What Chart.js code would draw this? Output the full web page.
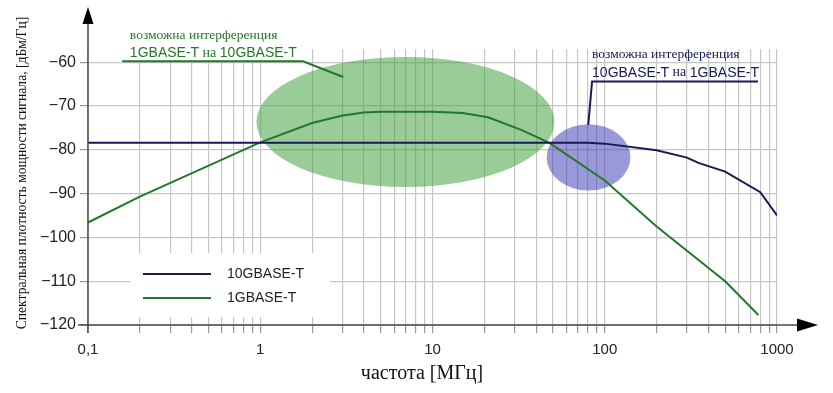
<!DOCTYPE html>
<html>
<head>
<meta charset="utf-8">
<script src="https://cdn.jsdelivr.net/npm/chart.js@4"></script>
<style>
  html, body { margin: 0; padding: 0; background: #fff; }
</style>
</head>
<body>
<canvas id="chart" width="833" height="393"></canvas>
<script>
// 10GBASE-T spectrum (MHz, dBm/Hz)
const freq10G = [0.1, 1, 10, 80, 100, 200, 300, 350, 500, 800, 1000];
const psd10G = [-78.4, -78.4, -78.4, -78.4, -78.6, -80.1, -81.8, -83.0, -85.0, -89.7, -95.0];

// 1GBASE-T spectrum
const freq1G = [0.1, 0.2, 1, 2, 3, 4, 5, 10, 15, 21, 33, 48, 100, 200, 500, 780];
const psd1G = [-96.6, -90.7, -78.3, -73.9, -72.2, -71.5, -71.3, -71.3, -71.6, -72.6, -75.5, -78.5, -87.0, -97.5, -110.0, -117.7];

const seriesNames = ['10GBASE-T', '1GBASE-T'];

// axis ticks
const xDecades = [0.1, 1, 10, 100];
const xSteps = [1, 2, 3, 4, 5, 6, 7, 8, 9];
const xLabelValues = [0.1, 1, 10, 100, 1000];
const xLabels = ['0,1', '1', '10', '100', '1000'];
const yTicks = [-120, -110, -100, -90, -80, -70, -60];

const navy = '#161a56';
const green = '#23782a';

let xGrid = [];
for (const d of xDecades) {
    for (const s of xSteps) {
        xGrid.push(+(d * s).toPrecision(3));
    }
}
xGrid.push(1000);

// highlighted zones and callouts, in data units
const zones = [
    { f1: 0.95, f2: 51, db1: -88.5, db2: -58.8, fill: 'rgba(62, 158, 58, 0.52)' },
    { f1: 46, f2: 141, db1: -89.3, db2: -74.2, fill: 'rgba(70, 70, 185, 0.55)' },
];

const callouts = [
    {
        color: green,
        path: [[0.158, -59.8], [1.77, -59.8], [3.03, -63.4]],
        line1: 'возможна интерференция',
        line2: ['1GBASE-T', ' на ', '10GBASE-T'],
        textAt: [0.175, -58.0],
        mask: true,
    },
    {
        color: navy,
        path: [[80.2, -74.3], [84.4, -64.4], [775, -64.4]],
        line1: 'возможна интерференция',
        line2: ['10GBASE-T', ' на ', '1GBASE-T'],
        textAt: [84.4, -62.4],
        mask: false,
    },
];

const sansFont = '"Liberation Sans", Arial, sans-serif';
const serifFont = '"Liberation Serif", "Times New Roman", serif';

const zonePlugin = {
    id: 'zones',
    beforeDatasetsDraw(chart) {
        const ctx = chart.ctx;
        const xs = chart.scales.x;
        const ys = chart.scales.y;
        const a = chart.chartArea;
        ctx.save();

        // white patch behind the green callout text
        for (const c of callouts) {
            if (!c.mask) continue;
            const x1 = xs.getPixelForValue(c.path[0][0]);
            const x2 = xs.getPixelForValue(c.path[1][0]);
            const y2 = ys.getPixelForValue(c.path[0][1]);
            ctx.fillStyle = '#fff';
            ctx.fillRect(x1, a.top - 1, x2 - x1 + 2, y2 - a.top);
        }

        for (const z of zones) {
            const x1 = xs.getPixelForValue(z.f1);
            const x2 = xs.getPixelForValue(z.f2);
            const y1 = ys.getPixelForValue(z.db1);
            const y2 = ys.getPixelForValue(z.db2);
            ctx.beginPath();
            ctx.ellipse((x1 + x2) / 2, (y1 + y2) / 2, Math.abs(x2 - x1) / 2, Math.abs(y2 - y1) / 2, 0, 0, Math.PI * 2);
            ctx.fillStyle = z.fill;
            ctx.fill();
        }

        // legend box sits on top of the grid
        const lx = a.left + 42;
        const ly = a.top + 204;
        ctx.fillStyle = '#fff';
        ctx.fillRect(lx, ly, 200, 64);
        const colors = [navy, green];
        ctx.font = '14px ' + sansFont;
        ctx.textBaseline = 'middle';
        for (let i = 0; i < seriesNames.length; i++) {
            const y = ly + 21 + i * 24;
            ctx.beginPath();
            ctx.moveTo(lx + 13, y);
            ctx.lineTo(lx + 81, y);
            ctx.strokeStyle = colors[i];
            ctx.lineWidth = 2;
            ctx.stroke();
            ctx.fillStyle = '#222';
            ctx.fillText(seriesNames[i], lx + 97, y);
        }
        ctx.restore();
    },
    afterDraw(chart) {
        const ctx = chart.ctx;
        const xs = chart.scales.x;
        const ys = chart.scales.y;
        const a = chart.chartArea;
        ctx.save();

        // callouts
        for (const c of callouts) {
            ctx.beginPath();
            c.path.forEach((p, i) => {
                const px = xs.getPixelForValue(p[0]);
                const py = ys.getPixelForValue(p[1]);
                if (i === 0) ctx.moveTo(px, py); else ctx.lineTo(px, py);
            });
            ctx.strokeStyle = c.color;
            ctx.lineWidth = 2;
            ctx.stroke();

            const tx = xs.getPixelForValue(c.textAt[0]);
            const ty = ys.getPixelForValue(c.textAt[1]);
            ctx.fillStyle = c.color;
            ctx.textBaseline = 'middle';
            ctx.textAlign = 'left';
            ctx.font = '13.5px ' + serifFont;
            ctx.fillText(c.line1, tx, ty - 18);
            let x = tx;
            c.line2.forEach((part, i) => {
                ctx.font = i === 1 ? '14px ' + serifFont : '14px ' + sansFont;
                ctx.fillText(part, x, ty);
                x += ctx.measureText(part).width;
            });
        }

        // axes with arrows
        ctx.strokeStyle = '#4a4a4a';
        ctx.fillStyle = '#000';
        ctx.lineWidth = 1.5;
        ctx.beginPath();
        ctx.moveTo(a.left, a.bottom + 8);
        ctx.lineTo(a.left, 20);
        ctx.moveTo(a.left - 10, a.bottom);
        ctx.lineTo(800, a.bottom);
        ctx.stroke();
        ctx.beginPath();
        ctx.moveTo(a.left, 7);
        ctx.lineTo(a.left - 5.5, 24);
        ctx.lineTo(a.left + 5.5, 24);
        ctx.closePath();
        ctx.fill();
        ctx.beginPath();
        ctx.moveTo(818, a.bottom);
        ctx.lineTo(797, a.bottom - 6.5);
        ctx.lineTo(797, a.bottom + 6.5);
        ctx.closePath();
        ctx.fill();

        // axis titles
        ctx.fillStyle = '#111';
        ctx.textAlign = 'center';
        ctx.textBaseline = 'middle';
        ctx.font = '20px ' + serifFont;
        ctx.fillText('частота [МГц]', 422, 374);
        ctx.translate(22, 173);
        ctx.rotate(-Math.PI / 2);
        ctx.font = '13.6px ' + serifFont;
        ctx.fillText('Спектральная плотность мощности сигнала, [дБм/Гц]', 0, 0);
        ctx.restore();
    },
};

const chart = new Chart(document.getElementById('chart'), {
    type: 'line',
    data: {
        datasets: [
            {
                label: seriesNames[0],
                data: freq10G.map((f, i) => ({ x: f, y: psd10G[i] })),
                borderColor: navy,
                borderWidth: 2,
                pointRadius: 0,
                tension: 0,
            },
            {
                label: seriesNames[1],
                data: freq1G.map((f, i) => ({ x: f, y: psd1G[i] })),
                borderColor: green,
                borderWidth: 2,
                pointRadius: 0,
                tension: 0,
            },
        ],
    },
    options: {
        responsive: false,
        animation: false,
        layout: { padding: { top: 49, right: 56, bottom: 0, left: 0 } },
        plugins: {
            legend: { display: false },
            tooltip: { enabled: false },
        },
        scales: {
            x: {
                type: 'logarithmic',
                min: 0.1,
                max: 1000,
                afterBuildTicks: (s) => { s.ticks = xGrid.map(v => ({ value: v })); },
                afterFit: (s) => { s.height = 68; },
                border: { display: false },
                grid: { color: '#c6c6c6', lineWidth: 1.2, tickLength: 8, tickColor: '#999' },
                ticks: {
                    autoSkip: false,
                    maxRotation: 0,
                    padding: 8,
                    color: '#222',
                    font: { family: sansFont, size: 15 },
                    callback: (v) => {
                        const i = xLabelValues.findIndex(l => Math.abs(l - v) < l * 1e-6);
                        return i >= 0 ? xLabels[i] : '';
                    },
                },
            },
            y: {
                min: -120,
                max: -57,
                afterBuildTicks: (s) => { s.ticks = yTicks.map(v => ({ value: v })); },
                afterFit: (s) => { s.width = 88; },
                border: { display: false },
                grid: { color: '#c6c6c6', lineWidth: 1.2, tickLength: 8, tickColor: '#999' },
                ticks: {
                    padding: 4,
                    color: '#222',
                    font: { family: sansFont, size: 16 },
                    callback: (v) => String(v).replace('-', '\u2212'),
                },
            },
        },
    },
    plugins: [zonePlugin],
});
</script>
</body>
</html>
